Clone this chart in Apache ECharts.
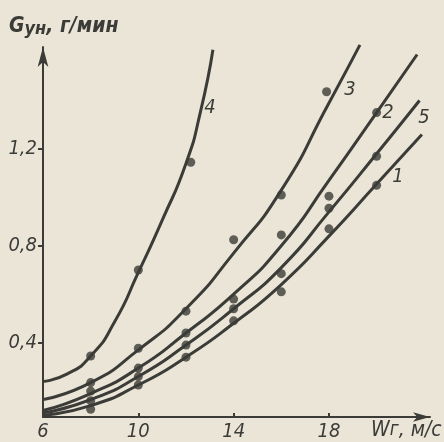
<!DOCTYPE html>
<html><head><meta charset="utf-8">
<script src="https://cdn.jsdelivr.net/npm/echarts@6/dist/echarts.min.js"></script>
<style>html,body{margin:0;padding:0;background:#ebe5d8}#c{width:444px;height:442px}</style>
</head><body><div id="c"></div>
<script>
// ---- data ----
const xLabelValues = [6, 10, 14, 18];
const xTickValues = [10, 14, 18];
const yTickValues = [0.4, 0.8, 1.2];

const curve1X = [6, 8, 10, 12, 14, 16, 18, 20, 21.9];
const curve1Y = [0.10, 0.14, 0.225, 0.34, 0.48, 0.64, 0.84, 1.055, 1.26];
const curve5X = [6, 8, 10, 12, 14, 16, 18, 20, 21.8];
const curve5Y = [0.11, 0.165, 0.26, 0.39, 0.54, 0.71, 0.94, 1.18, 1.40];
const curve2X = [6, 8, 10, 12, 14, 16, 18, 20, 21.7];
const curve2Y = [0.12, 0.19, 0.295, 0.44, 0.60, 0.80, 1.07, 1.35, 1.59];
const curve3X = [6, 8, 10, 12, 14, 16, 18, 19.3];
const curve3Y = [0.165, 0.235, 0.37, 0.54, 0.77, 1.03, 1.39, 1.63];
const curve4X = [6, 7, 8, 9, 10, 11, 12, 12.6, 13.13];
const curve4Y = [0.24, 0.27, 0.345, 0.485, 0.69, 0.905, 1.14, 1.35, 1.61];

const dots4X = [8, 10, 12.2];
const dots4Y = [0.345, 0.70, 1.145];
const dots3X = [8, 10, 12, 14, 16, 17.9];
const dots3Y = [0.235, 0.377, 0.53, 0.825, 1.01, 1.436];
const dots2X = [8, 10, 12, 14, 16, 18, 20];
const dots2Y = [0.20, 0.295, 0.44, 0.58, 0.845, 1.005, 1.35];
const dots5X = [8, 10, 12, 14, 16, 18, 20];
const dots5Y = [0.16, 0.26, 0.39, 0.54, 0.685, 0.955, 1.17];
const dots1X = [8, 10, 12, 14, 16, 18, 20];
const dots1Y = [0.125, 0.225, 0.34, 0.49, 0.61, 0.87, 1.05];

const curveNames = ['1', '5', '2', '3', '4'];
// ---- chart ----
const INK = '#3b3c37';
const FONT = "'Liberation Sans Narrow','DejaVu Sans Condensed',sans-serif";
const zip = (xs, ys) => xs.map((x, i) => [x, ys[i]]);
const lines = [[curve1X, curve1Y], [curve5X, curve5Y], [curve2X, curve2Y], [curve3X, curve3Y], [curve4X, curve4Y]];
const dots = [[dots1X, dots1Y], [dots5X, dots5Y], [dots2X, dots2Y], [dots3X, dots3Y], [dots4X, dots4Y]];
const series = [];
lines.forEach((l, i) => series.push({
  type: 'line', name: 'curve ' + curveNames[i], data: zip(l[0], l[1]), smooth: 0.6,
  showSymbol: false, clip: false, lineStyle: {color: INK, width: 3}
}));
dots.forEach((d, i) => series.push({
  type: 'scatter', name: 'points ' + curveNames[i], data: zip(d[0], d[1]), symbolSize: 9,
  itemStyle: {color: INK}, clip: false
}));

const chart = echarts.init(document.getElementById('c'));
const labelStyle = {fill: INK, fontFamily: FONT, fontStyle: 'italic', fontSize: 20};
chart.setOption({
  backgroundColor: '#ebe5d8',
  animation: false,
  grid: {left: 43, right: 14, top: 47, bottom: 25},
  xAxis: {
    type: 'value', min: 6, max: 22.24,
    axisLine: {show: true, lineStyle: {color: INK, width: 2}, symbol: ['none', 'arrow'], symbolSize: [7, 17]},
    axisTick: {show: true, inside: true, length: 4, customValues: xTickValues, lineStyle: {color: INK, width: 2}},
    axisLabel: {customValues: xLabelValues, color: INK, fontFamily: FONT, fontStyle: 'italic', fontSize: 20, margin: 5},
    splitLine: {show: false}
  },
  yAxis: {
    type: 'value', min: 0.093, max: 1.621,
    axisLine: {show: true, lineStyle: {color: INK, width: 2}, symbol: ['none', 'arrow'], symbolSize: [8, 20]},
    axisTick: {show: true, length: 5, customValues: yTickValues, lineStyle: {color: INK, width: 2}},
    axisLabel: {customValues: yTickValues, color: INK, fontFamily: FONT, fontStyle: 'italic', fontSize: 20, margin: 6,
      formatter: v => String(v).replace('.', ',')},
    splitLine: {show: false}
  },
  graphic: [
    {type: 'text', left: 9, top: 16, style: {
      text: '{g|G}{s|ун}{n|, г/мин}', fill: INK,
      rich: {
        g: {fontFamily: FONT, fontStyle: 'italic', fontWeight: 'bold', fontSize: 21, fill: INK},
        s: {fontFamily: FONT, fontStyle: 'italic', fontWeight: 'bold', fontSize: 18, fill: INK, padding: [5, 0, 0, 0]},
        n: {fontFamily: FONT, fontStyle: 'italic', fontWeight: 'bold', fontSize: 21, fill: INK}
      }}},
    {type: 'text', left: 371, top: 420, style: {
      text: '{w|W}{s|г}{n|, м/с}', fill: INK,
      rich: {
        w: {fontFamily: FONT, fontStyle: 'italic', fontSize: 21, fill: INK},
        s: {fontFamily: FONT, fontStyle: 'italic', fontSize: 19, fill: INK},
        n: {fontFamily: FONT, fontStyle: 'italic', fontSize: 21, fill: INK}
      }}},
    {type: 'text', x: 210, y: 108, style: Object.assign({text: '4', align: 'center', verticalAlign: 'middle'}, labelStyle)},
    {type: 'text', x: 350, y: 90, style: Object.assign({text: '3', align: 'center', verticalAlign: 'middle'}, labelStyle)},
    {type: 'text', x: 388, y: 113, style: Object.assign({text: '2', align: 'center', verticalAlign: 'middle'}, labelStyle)},
    {type: 'text', x: 424, y: 118, style: Object.assign({text: '5', align: 'center', verticalAlign: 'middle'}, labelStyle)},
    {type: 'text', x: 398, y: 177, style: Object.assign({text: '1', align: 'center', verticalAlign: 'middle'}, labelStyle)}
  ],
  series: series
});
</script></body></html>
